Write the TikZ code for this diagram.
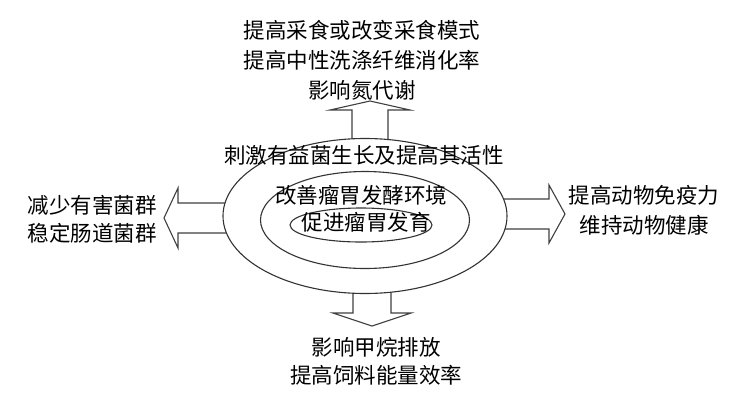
\documentclass[tikz,border=0pt]{standalone}
\usepackage{fontspec}
\newfontfamily\cjk{Noto Sans CJK SC}
\usetikzlibrary{shapes.geometric}
\tikzset{
  ring/.style={ellipse, draw=black!80, line width=1.1pt, inner sep=0pt},
  blockarrow/.style={draw=black!75, line width=1.1pt, fill=white, line join=miter},
  lbl/.style={font=\cjk\fontsize{21.5}{30}\selectfont, align=center, inner sep=0pt, text=black},
  lbltight/.style={font=\cjk\fontsize{21.5}{28}\selectfont, align=center, inner sep=0pt, text=black}
}
\begin{document}
\begin{tikzpicture}[x=1pt,y=-1pt]
\useasboundingbox (0,0) rectangle (736,405);
% block arrows (drawn first; shafts hidden under the outer ring)
\draw[blockarrow] (352,150) -- (352,110) -- (330,110) -- (370,101) -- (410,110) -- (388,110) -- (388,150);
\draw[blockarrow] (353,285) -- (353,313) -- (333,313) -- (372,326) -- (411,313) -- (391,313) -- (391,285);
\draw[blockarrow] (235,203) -- (178,203) -- (178,188) -- (164,218) -- (178,248) -- (178,233) -- (235,233);
\draw[blockarrow] (495,199) -- (549,199) -- (549,185) -- (565,214) -- (549,243) -- (549,229) -- (495,229);
% rings
\node[ring, fill=white, minimum width=284pt, minimum height=155pt] (outer) at (365,216) {};
\node[ring, minimum width=209pt, minimum height=97pt] (middle) at (365,220) {};
\node[ring, minimum width=142pt, minimum height=34pt] (inner) at (361,225) {};
% ring texts
\node[lbl] (t1) at (364,155) {刺激有益菌生长及提高其活性};
\node[lbl] (t2) at (361,195) {改善瘤胃发酵环境};
\node[lbl] (t3) at (366,222) {促进瘤胃发育};
% outside texts
\node[lbl] (top) at (362,60) {提高采食或改变采食模式\\提高中性洗涤纤维消化率\\影响氮代谢};
\node[lbltight] (left) at (92,219) {减少有害菌群\\稳定肠道菌群};
\node[lbl] (right) at (644,210) {提高动物免疫力\\维持动物健康};
\node[lbltight] (bottom) at (376,361) {影响甲烷排放\\提高饲料能量效率};
\end{tikzpicture}
\end{document}
